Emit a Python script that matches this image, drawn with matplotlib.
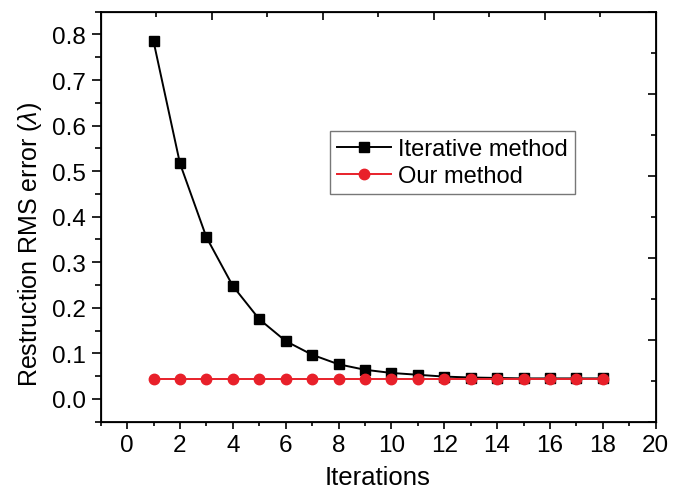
import numpy as np
import matplotlib.pyplot as plt
from matplotlib.ticker import MultipleLocator

plt.rcParams['font.family'] = ['Liberation Sans', 'DejaVu Sans']
plt.rcParams['mathtext.fontset'] = 'custom'
plt.rcParams['mathtext.it'] = 'Liberation Sans:italic'

iterations = [1, 2, 3, 4, 5, 6, 7, 8, 9, 10, 11, 12, 13, 14, 15, 16, 17, 18]
iterative = [0.785, 0.517, 0.355, 0.248, 0.175, 0.127, 0.097, 0.076, 0.064, 0.057,
             0.053, 0.049, 0.047, 0.046, 0.045, 0.045, 0.045, 0.045]
ours = [0.044] * 18

fig = plt.figure(figsize=(6.83, 4.89), dpi=100)
ax = fig.add_axes([0.1474, 0.1356, 0.8126, 0.8384])

ax.plot(iterations, iterative, color='black', lw=1.4, marker='s', ms=6.5,
        label='Iterative method', zorder=3)
ax.plot(iterations, ours, color='#e8202a', lw=1.4, marker='o', ms=7.5,
        label='Our method', zorder=4)

ax.set_xlim(-1, 20)
ax.set_ylim(-0.05, 0.85)
ax.xaxis.set_minor_locator(MultipleLocator(1))
ax.yaxis.set_minor_locator(MultipleLocator(0.05))
ax.set_yticks(np.arange(0, 0.81, 0.1))
ax.set_xticks(np.arange(0, 21, 2))
ax.yaxis.set_major_formatter(plt.FormatStrFormatter('%.1f'))

ax.tick_params(which='both', direction='out', width=1.2, labelsize=17.5,
               top=False, right=False, pad=4)
ax.tick_params(axis='x', which='major', length=5)
ax.tick_params(axis='x', which='minor', length=3)
ax.tick_params(axis='y', which='major', length=6.5)
ax.tick_params(axis='y', which='minor', length=4)
for s in ax.spines.values():
    s.set_linewidth(1.3)

ax.set_xlabel('Iterations', fontsize=18.5)
ax.set_ylabel(r'Restruction RMS error ($\mathit{\lambda}$)', fontsize=18)
ax.xaxis.set_label_coords(0.499, -0.135)
ax.yaxis.set_label_coords(-0.128, 0.435)
ax.xaxis.label.set_va('center')
ax.yaxis.label.set_va('center')

# top / right axes with their own tick spacing (no labels)
top = ax.twiny()
top.set_xlim(0, 5)
top.xaxis.set_major_locator(MultipleLocator(1))
top.xaxis.set_minor_locator(MultipleLocator(0.5))
top.tick_params(which='both', direction='in', labeltop=False, width=1.2)
top.tick_params(which='major', length=6)
top.tick_params(which='minor', length=3.5)

right = ax.twinx()
right.set_ylim(0, 5)
right.yaxis.set_major_locator(MultipleLocator(1))
right.yaxis.set_minor_locator(MultipleLocator(0.5))
right.tick_params(which='both', direction='in', labelright=False, width=1.2)
right.tick_params(which='major', length=6)
right.tick_params(which='minor', length=3.5)

leg = ax.legend(loc='upper left', bbox_to_anchor=(0.483, 0.73),
                bbox_transform=fig.transFigure, fontsize=17, frameon=True,
                fancybox=False, numpoints=1, handlelength=2.3,
                handletextpad=0.3, labelspacing=0.2, borderpad=0.3,
                borderaxespad=0)
leg.get_frame().set_edgecolor('#555555')
leg.get_frame().set_linewidth(1.0)

fig.savefig('out.png', dpi=100)
